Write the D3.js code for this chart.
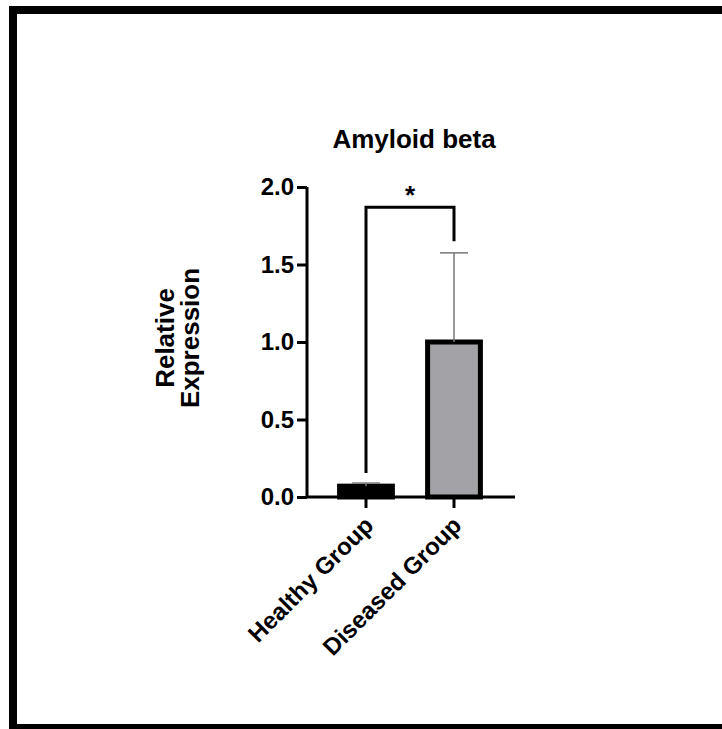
<!DOCTYPE html>
<html>
<head>
<meta charset="utf-8">
<script src="https://cdn.jsdelivr.net/npm/d3@7"></script>
<style>
  body { margin: 0; background: #fff; overflow: hidden; }
  svg { display: block; }
  text { font-family: "Liberation Sans", Arial, sans-serif; font-weight: bold; }
</style>
</head>
<body>
<svg id="chart" width="722" height="729"></svg>
<script>
// chart data
var groups = ["Healthy Group", "Diseased Group"];
var means = [0.07, 1.0];
var sds = [0.02, 0.575];
var barColors = ["#000000", "#a3a3a7"];
var yTicks = [0.0, 0.5, 1.0, 1.5, 2.0];
// significance bracket: left leg bottom, top, right leg bottom
var bracketLevels = [0.155, 1.87, 1.65];
var sigLabel = "*";

var svg = d3.select("#chart");

// outer frame (right side runs off the page)
svg.append("rect")
  .attr("x", 13).attr("y", 10)
  .attr("width", 800).attr("height", 718)
  .attr("fill", "none").attr("stroke", "#000").attr("stroke-width", 8);

var y = d3.scaleLinear().domain([0, 2]).range([497, 187]);
var x = d3.scaleBand().domain(groups).range([322, 498])
  .paddingInner(0.4).paddingOuter(0.2);

// bars
svg.selectAll("rect.bar").data(groups).enter().append("rect")
  .attr("class", "bar")
  .attr("x", d => x(d))
  .attr("width", x.bandwidth())
  .attr("y", (d, i) => y(means[i]))
  .attr("height", (d, i) => y(0) - y(means[i]))
  .attr("fill", (d, i) => barColors[i])
  .attr("stroke", "#000")
  .attr("stroke-width", 5);

// error bars (upper only)
var capW = 28;
groups.forEach((g, i) => {
  var cx = x(g) + x.bandwidth() / 2;
  svg.append("line")
    .attr("x1", cx).attr("x2", cx)
    .attr("y1", y(means[i])).attr("y2", y(means[i] + sds[i]))
    .attr("stroke", "#777").attr("stroke-width", 1.5);
  svg.append("line")
    .attr("x1", cx - capW / 2).attr("x2", cx + capW / 2)
    .attr("y1", y(means[i] + sds[i])).attr("y2", y(means[i] + sds[i]))
    .attr("stroke", "#777").attr("stroke-width", 1.5);
});

// y axis
var yAxis = svg.append("g")
  .attr("transform", "translate(307,0)")
  .call(d3.axisLeft(y).tickValues(yTicks).tickFormat(d3.format(".1f")).tickSize(10).tickPadding(3));
yAxis.select(".domain").attr("stroke-width", 3).attr("d", "M0," + y(2) + "V" + y(0));
yAxis.selectAll(".tick line").attr("stroke-width", 3);
yAxis.selectAll(".tick text").attr("font-size", 24).attr("fill", "#000")
  .style("font-family", "'Liberation Sans', Arial, sans-serif").style("font-weight", "bold");

// x axis
var xAxis = svg.append("g")
  .attr("transform", "translate(0," + y(0) + ")")
  .call(d3.axisBottom(x).tickSize(11).tickPadding(6));
xAxis.select(".domain").attr("stroke-width", 3).attr("d", "M307,0H515");
xAxis.selectAll(".tick line").attr("stroke-width", 3);
xAxis.selectAll(".tick text")
  .attr("font-size", 24).attr("fill", "#000")
  .style("font-family", "'Liberation Sans', Arial, sans-serif").style("font-weight", "bold")
  .attr("text-anchor", "end")
  .attr("dy", "0.35em")
  .attr("transform", "translate(3,24) rotate(-45)")
  .attr("y", 0).attr("x", 0);

// significance bracket
var xl = x(groups[0]) + x.bandwidth() / 2;
var xr = x(groups[1]) + x.bandwidth() / 2;
svg.append("path")
  .attr("d", "M" + xl + "," + y(bracketLevels[0]) + "V" + y(bracketLevels[1]) +
             "H" + xr + "V" + y(bracketLevels[2]))
  .attr("fill", "none").attr("stroke", "#000").attr("stroke-width", 3);
svg.append("text")
  .attr("x", (xl + xr) / 2).attr("y", y(bracketLevels[1]) - 3)
  .attr("text-anchor", "middle").attr("font-size", 26)
  .text(sigLabel);

// title
svg.append("text")
  .attr("x", 414).attr("y", 148)
  .attr("text-anchor", "middle").attr("font-size", 26)
  .text("Amyloid beta");

// y label
var yl = svg.append("text")
  .attr("transform", "translate(174,338) rotate(-90)")
  .attr("text-anchor", "middle").attr("font-size", 26);
yl.append("tspan").attr("x", 0).attr("y", 0).text("Relative");
yl.append("tspan").attr("x", 0).attr("y", 25).text("Expression");
</script>
</body>
</html>
